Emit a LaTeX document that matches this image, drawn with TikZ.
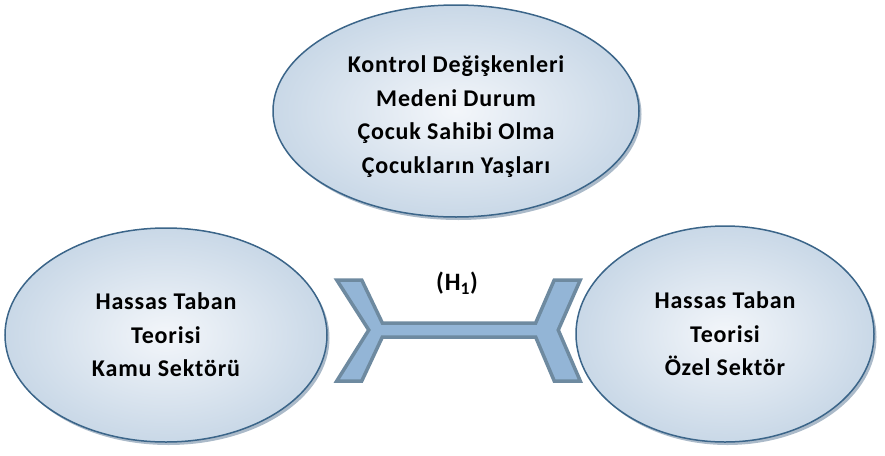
\documentclass[tikz,border=0pt]{standalone}
\usepackage{fontspec}
\setmainfont{Carlito}
\newfontfamily\htefont[LetterSpace=3.5]{Carlito}
\usepackage{tikz}
\usetikzlibrary{shapes.geometric, shadows, calc, positioning}
\definecolor{hteedge}{HTML}{3B6589}
\definecolor{htelight}{HTML}{F3F6FA}
\definecolor{htedark}{HTML}{C9D8E7}
\definecolor{hteshadow}{HTML}{8FA3B7}
\definecolor{htearrow}{HTML}{93B5D6}
\definecolor{htearrowline}{HTML}{6E8AA0}

\begin{document}
\begin{tikzpicture}[
  x=1pt, y=-1pt,
  oval/.style={ellipse, draw=hteedge, line width=1.5pt, inner sep=0pt, align=center, font=\htefont\fontsize{24}{33.5}\selectfont\bfseries, inner color=htelight, outer color=htedark, drop shadow={fill=hteshadow, opacity=0.75, shadow xshift=2.5pt, shadow yshift=-3pt}},
  bridge/.style={draw=htearrowline, fill=htearrow, line width=3.5pt, line join=miter},
  hlabel/.style={font=\htefont\fontsize{25}{30}\selectfont\bfseries}
]
\useasboundingbox (0,0) rectangle (885,455);

% Control variables (top)
\node[oval, minimum width=366pt, minimum height=212pt] (kontrol) at (456,111) {\rule{0pt}{28pt}Kontrol Değişkenleri\\ Medeni Durum\\ Çocuk Sahibi Olma\\ Çocukların Yaşları};

% Sectors (bottom row)
\node[oval, minimum width=322pt, minimum height=214pt] (kamu) at (166,335) {Hassas Taban\\ Teorisi\\ Kamu Sektörü};
\node[oval, minimum width=298pt, minimum height=216pt] (ozel) at (725,334) {Hassas Taban\\ Teorisi\\ Özel Sektör};

% Hypothesis link
\coordinate (tipL) at ($(kamu.east)+(58,-5)$);
\coordinate (tipR) at ($(ozel.west)+(-43,-4)$);
\draw[bridge] ($(tipL)+(-49,-50)$) -- ($(tipL)+(-24,-50)$) -- ($(tipL)+(-3.4,-7)$) -- ($(tipR)+(3.4,-7)$) -- ($(tipR)+(22,-50)$) -- ($(tipR)+(48,-50)$) -- ($(tipR)+(26,0)$) -- ($(tipR)+(48,51)$) -- ($(tipR)+(22,51)$) -- ($(tipR)+(3.4,7)$) -- ($(tipL)+(-3.4,7)$) -- ($(tipL)+(-24,51)$) -- ($(tipL)+(-49,51)$) -- ($(tipL)+(-17,0)$) -- cycle;
\node[hlabel] (h1) at ($(tipL)!0.5!(tipR)+(-2,-47)$) {(H\textsubscript{1})};

\end{tikzpicture}
\end{document}
